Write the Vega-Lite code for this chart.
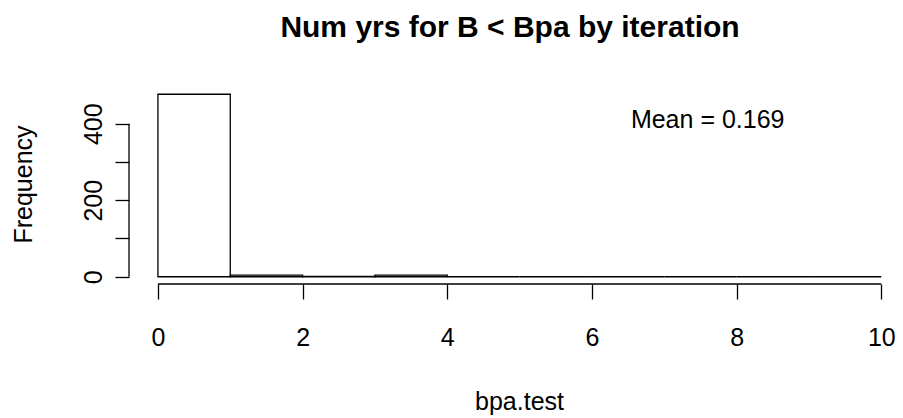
{
  "$schema": "https://vega.github.io/schema/vega-lite/v6.json",
  "width": 774,
  "height": 197,
  "autosize": "none",
  "padding": {"left": 129, "top": 87, "right": 0, "bottom": 134},
  "background": "white",
  "config": {
    "view": {"stroke": null},
    "font": "Liberation Sans",
    "axis": {"labelFont": "Liberation Sans", "titleFont": "Liberation Sans", "labelColor": "black", "titleColor": "black", "tickColor": "black", "domain": false, "grid": false}
  },
  "title": {
    "text": "Num yrs for B < Bpa by iteration",
    "font": "Liberation Sans",
    "fontSize": 30,
    "fontWeight": "bold",
    "color": "black",
    "anchor": "middle",
    "dx": -6,
    "offset": 44
  },
  "data": {
    "values": [
      {"start": 0, "end": 1, "count": 477},
      {"start": 1, "end": 2, "count": 4},
      {"start": 2, "end": 3, "count": 1},
      {"start": 3, "end": 4, "count": 4},
      {"start": 4, "end": 5, "count": 0},
      {"start": 5, "end": 6, "count": 0},
      {"start": 6, "end": 7, "count": 0},
      {"start": 7, "end": 8, "count": 0},
      {"start": 8, "end": 9, "count": 0},
      {"start": 9, "end": 10, "count": 0}
    ]
  },
  "layer": [
    {
      "mark": {"type": "rect", "fill": "white", "stroke": "black", "strokeWidth": 1.3},
      "encoding": {
        "x": {
          "field": "start", "type": "quantitative",
          "scale": {"domain": [-0.4, 10.3], "nice": false, "zero": false},
          "axis": {"values": [0, 2, 4, 6, 8, 10], "format": "d", "tickSize": 15, "tickWidth": 1.3, "labelFontSize": 25, "labelPadding": 26, "title": "bpa.test", "titleFontSize": 25, "titleFontWeight": "normal", "titleX": 390, "titleY": 117, "titleBaseline": "middle"}
        },
        "x2": {"field": "end"},
        "y": {
          "field": "count", "type": "quantitative",
          "scale": {"domain": [-19, 496], "nice": false, "zero": false},
          "axis": {"values": [0, 100, 200, 300, 400], "format": "d", "labelExpr": "datum.value % 200 == 0 ? datum.label : ''", "tickSize": 14, "tickWidth": 1.3, "labelFontSize": 25, "labelAngle": -90, "labelAlign": "center", "labelBaseline": "bottom", "labelPadding": 9, "title": "Frequency", "titleFontSize": 25, "titleFontWeight": "normal", "titleX": -106, "titleY": 97, "titleAngle": -90, "titleAlign": "center", "titleBaseline": "middle"}
        },
        "y2": {"datum": 0}
      }
    },
    {
      "data": {"values": [{}]},
      "mark": {"type": "rule", "color": "black", "strokeWidth": 1.3},
      "encoding": {
        "x": {"datum": 0, "type": "quantitative"},
        "x2": {"datum": 10},
        "y": {"datum": -19, "type": "quantitative"}
      }
    },
    {
      "data": {"values": [{}]},
      "mark": {"type": "rule", "color": "black", "strokeWidth": 1.3},
      "encoding": {
        "x": {"datum": -0.4, "type": "quantitative"},
        "y": {"datum": 0, "type": "quantitative"},
        "y2": {"datum": 400}
      }
    },
    {
      "data": {"values": [{}]},
      "mark": {"type": "text", "text": "Mean = 0.169", "fontSize": 25, "font": "Liberation Sans", "color": "black", "align": "center", "baseline": "middle"},
      "encoding": {
        "x": {"datum": 7.6, "type": "quantitative"},
        "y": {"datum": 410, "type": "quantitative"}
      }
    }
  ]
}
